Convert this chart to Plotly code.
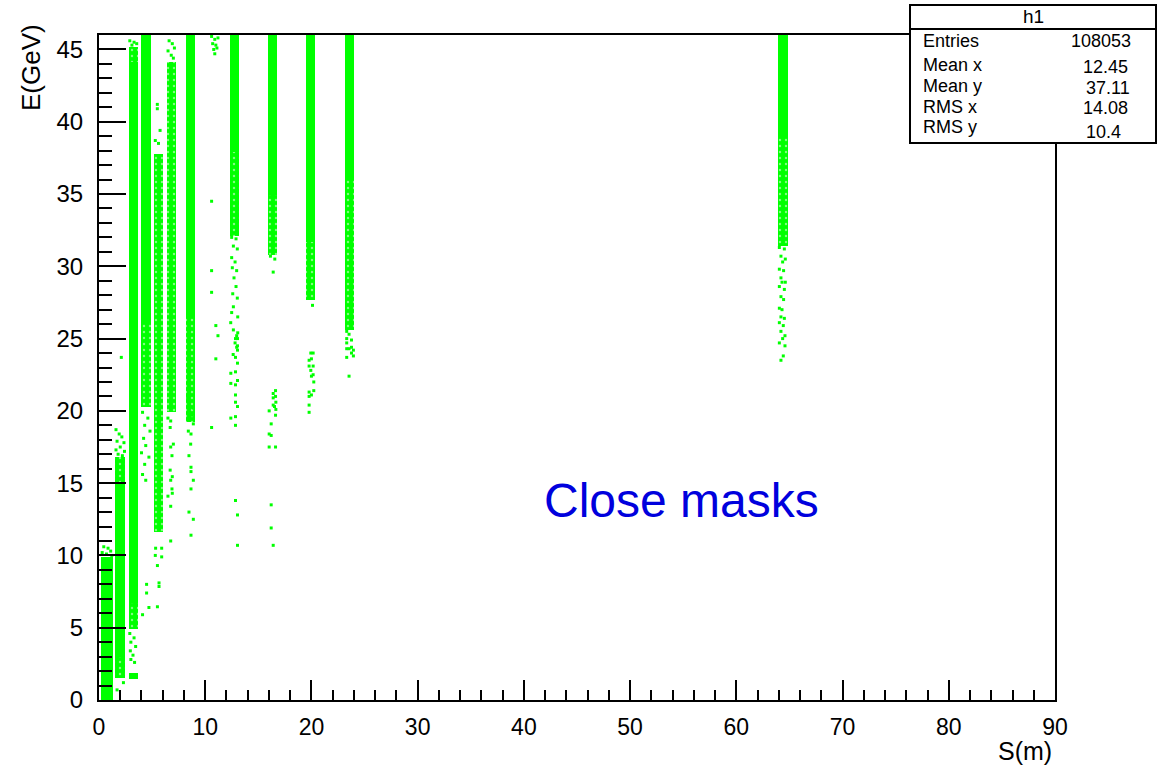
import plotly.graph_objects as go

# ---- data -------------------------------------------------------------
# Dense bands of hits: S range [m] and E range [GeV] of each band
band_s_lo = [0.16, 1.53, 2.82, 2.82, 3.95, 8.20, 12.30, 15.90, 19.50, 23.20, 63.88]
band_s_hi = [1.30, 2.47, 3.67, 3.67, 4.90, 9.02, 13.15, 16.72, 20.32, 24.05, 64.82]
band_e_lo = [0.0, 3.0, 6.7, 1.45, 26.0, 26.5, 37.9, 34.9, 31.7, 36.0, 39.0]
band_e_hi = [9.9, 15.0, 44.1, 1.9, 46.0, 46.0, 46.0, 46.0, 46.0, 46.0, 46.0]

# Speckled (partly filled) bands
speck_s_lo = [1.53, 1.53, 2.82, 2.82, 3.95, 5.20, 6.40, 8.20, 12.30, 15.90, 19.50, 23.20, 63.88]
speck_s_hi = [2.47, 2.47, 3.67, 3.67, 4.90, 6.00, 7.25, 9.02, 13.15, 16.72, 20.32, 24.05, 64.82]
speck_e_lo = [1.5, 15.0, 4.9, 44.1, 20.3, 11.6, 19.9, 19.2, 32.1, 30.8, 27.7, 25.6, 31.4]
speck_e_hi = [3.0, 16.8, 6.7, 45.2, 26.0, 37.8, 44.1, 26.5, 37.9, 34.9, 31.7, 36.0, 39.0]

# Isolated hits
sparse_s = [
    0.45, 0.85, 1.10, 0.30, 0.70, 1.20,
    1.60, 1.90, 2.15, 1.70, 2.35, 2.00, 1.60, 2.40, 1.80, 2.20, 2.10, 1.70, 2.30,
    2.90, 3.30, 3.55, 3.10,
    2.90, 3.30, 3.00, 3.45, 2.95, 3.20, 3.00, 3.35,
    4.10, 4.60, 4.30, 4.80, 4.20, 4.40, 4.00, 4.70, 4.30, 4.10, 4.40, 4.48, 4.48, 4.70, 4.10,
    5.49, 5.49, 5.75, 5.30, 5.60, 5.33, 5.90, 5.30, 5.90, 5.50, 5.65, 5.65, 5.50,
    6.60, 6.90, 7.10, 6.50, 6.80, 7.00,
    6.49, 6.75, 6.70, 7.00, 6.75, 6.87, 6.70, 6.90, 6.75, 6.87, 6.90, 6.49, 6.75, 6.75,
    8.35, 8.88, 8.73, 8.88, 8.41, 8.66, 8.63, 8.47, 8.66, 8.66, 8.88, 8.66, 8.47, 8.88, 8.66,
    10.6, 10.9, 11.2, 10.7, 11.0, 10.8, 11.1, 10.9, 10.6, 10.6, 10.6, 11.0, 11.2, 11.0, 10.6,
    12.49, 12.90, 12.65, 13.02, 12.49, 12.81, 12.55, 12.96, 12.71, 12.90, 12.59, 13.02, 12.65,
    12.49, 13.06, 12.40, 12.65, 13.06, 12.81, 12.96,
    12.96, 12.85, 13.04, 13.04, 13.04, 12.63, 12.85, 13.04, 12.85, 12.41, 13.04, 12.41, 12.85,
    12.85, 12.85, 13.04, 12.85, 12.41, 12.85, 12.85, 13.04, 13.04,
    16.62, 16.40, 16.62, 16.40, 16.65, 16.40, 16.52, 16.65, 16.02, 16.62, 16.21, 16.02, 16.21,
    16.02, 16.62, 16.21, 16.21, 16.40, 16.14, 16.55, 16.40,
    19.94, 20.16, 20.00, 19.78, 19.78, 20.16, 19.94, 20.16, 20.00, 20.22, 20.22, 19.78, 20.00,
    19.78, 19.78, 19.78, 20.10,
    23.32, 23.54, 23.32, 23.77, 23.32, 23.32, 23.54, 23.77, 23.95, 23.77, 23.95, 23.32, 23.54,
    64.05, 64.52, 64.20, 64.61, 64.36, 64.05, 64.45, 64.20, 64.30, 64.61, 64.05, 64.52, 64.20,
    64.45, 64.05, 64.30, 64.20, 64.52, 64.05, 64.42, 64.20, 64.58, 64.36, 64.05, 64.58, 64.42,
    64.20,
]
sparse_e = [
    10.6, 10.5, 10.3, 10.2, 10.1, 10.0,
    18.7, 18.4, 18.2, 17.9, 17.8, 17.5, 17.3, 17.2, 17.0, 16.9, 23.7, 0.7, 1.2,
    45.6, 45.5, 45.4, 45.3,
    4.6, 4.3, 4.0, 3.7, 3.4, 3.1, 2.8, 2.6,
    19.9, 19.5, 19.0, 18.6, 18.1, 17.6, 17.1, 16.8, 16.3, 15.6, 15.2, 8.0, 7.4, 6.4, 5.9,
    41.2, 40.9, 39.4, 38.7, 38.5, 10.5, 10.5, 10.0, 9.9, 9.3, 8.1, 7.85, 6.45,
    45.6, 45.4, 45.1, 44.9, 44.6, 44.4,
    19.5, 19.3, 18.85, 17.7, 17.5, 16.9, 15.9, 15.45, 15.2, 14.6, 14.3, 14.1, 13.4, 11.0,
    20.9, 20.2, 19.7, 19.1, 18.6, 18.4, 17.7, 16.9, 16.1, 15.8, 15.2, 14.6, 13.0, 12.5, 11.4,
    45.9, 45.7, 45.8, 45.4, 45.3, 45.0, 45.1, 44.7, 34.5, 29.7, 28.2, 25.9, 25.2, 23.6, 18.85,
    32.0, 31.9, 31.4, 31.2, 30.6, 30.3, 29.9, 29.7, 29.2, 28.6, 28.1, 27.8, 27.2,
    26.8, 26.5, 26.1, 25.6, 25.4, 24.7, 24.4,
    25.2, 25.0, 25.0, 24.5, 24.2, 23.9, 23.7, 23.3, 22.7, 22.6, 22.1, 21.9, 21.8,
    21.1, 20.6, 20.3, 19.6, 19.5, 19.0, 13.8, 12.8, 10.7,
    21.4, 21.2, 21.0, 20.9, 20.6, 20.4, 20.3, 20.1, 20.0, 19.7, 19.1, 18.4, 18.3,
    17.5, 17.5, 13.5, 11.9, 10.7, 30.7, 30.5, 29.6,
    24.0, 24.0, 23.6, 23.5, 23.1, 23.1, 22.8, 22.5, 22.4, 22.0, 21.4, 21.3, 21.1,
    21.0, 20.4, 19.9, 27.3,
    25.5, 25.3, 25.0, 24.9, 24.7, 24.3, 24.3, 24.4, 24.2, 24.0, 23.8, 23.7, 22.4,
    31.3, 31.2, 30.7, 30.5, 30.3, 29.8, 29.7, 29.2, 28.9, 28.9, 28.6, 28.4, 27.9,
    27.7, 27.1, 27.0, 26.5, 26.4, 26.1, 25.9, 25.5, 25.2, 25.0, 24.7, 24.5, 23.8,
    23.5,
]

# Statistics box contents
stats_title = "h1"
stats_names = ["Entries", "Mean x", "Mean y", "RMS x", "RMS y"]
stats_values = ["108053", "12.45", "37.11", "14.08", "10.4"]

x_ticks = list(range(0, 91, 10))
y_ticks = list(range(0, 46, 5))

# ---- figure -----------------------------------------------------------
GREEN = "#00ff00"
W, H = 1168, 765
L, R, T, B = 99, 1055, 35, 700


def px_x(p):
    return (p - L) / (R - L)


def px_y(p):
    return (B - p) / (B - T)


fig = go.Figure()

fig.add_trace(go.Bar(
    x=[(a + b) / 2 for a, b in zip(band_s_lo, band_s_hi)],
    width=[b - a for a, b in zip(band_s_lo, band_s_hi)],
    base=band_e_lo,
    y=[h - l for l, h in zip(band_e_lo, band_e_hi)],
    marker=dict(color=GREEN, line=dict(width=0)),
    hoverinfo="skip",
))

fig.add_trace(go.Bar(
    x=[(a + b) / 2 for a, b in zip(speck_s_lo, speck_s_hi)],
    width=[b - a for a, b in zip(speck_s_lo, speck_s_hi)],
    base=speck_e_lo,
    y=[h - l for l, h in zip(speck_e_lo, speck_e_hi)],
    marker=dict(color=GREEN, line=dict(width=0),
                pattern=dict(shape=".", fgcolor="white", bgcolor=GREEN,
                             size=6, solidity=0.12)),
    hoverinfo="skip",
))

fig.add_trace(go.Scatter(
    x=sparse_s, y=sparse_e, mode="markers",
    marker=dict(symbol="square", size=3, color=GREEN, line=dict(width=0)),
    hoverinfo="skip",
))

FONT = "Liberation Sans, Arial, Helvetica, sans-serif"

fig.update_layout(
    width=W, height=H, autosize=False,
    margin=dict(l=L, r=W - R, t=T, b=H - B, pad=0),
    paper_bgcolor="white", plot_bgcolor="white",
    barmode="overlay", bargap=0, showlegend=False,
    font=dict(family=FONT, size=22, color="black"),
    xaxis=dict(
        range=[0, 90], tickvals=x_ticks, ticktext=[str(v) for v in x_ticks],
        tickfont=dict(size=23),
        showgrid=False, zeroline=False, showline=True, linecolor="black",
        linewidth=2, mirror=True, ticks="inside", ticklen=20, tickwidth=2,
        tickcolor="black", ticklabelstandoff=5,
        minor=dict(ticks="inside", ticklen=10, dtick=2, tickwidth=1.5,
                   tickcolor="black", showgrid=False),
    ),
    yaxis=dict(
        range=[0, 46], tickvals=y_ticks, ticktext=[str(v) for v in y_ticks],
        tickfont=dict(size=24),
        showgrid=False, zeroline=False, showline=True, linecolor="black",
        linewidth=2, mirror=True, ticks="inside", ticklen=27, tickwidth=2,
        tickcolor="black", ticklabelstandoff=9,
        minor=dict(ticks="inside", ticklen=13, dtick=1, tickwidth=1.5,
                   tickcolor="black", showgrid=False),
    ),
)

# Axis titles, right/top aligned
fig.add_annotation(text="S(m)", xref="paper", yref="paper",
                   x=px_x(1053), y=px_y(736), xanchor="right", yanchor="top",
                   showarrow=False, font=dict(size=25), borderpad=0)
fig.add_annotation(text="E(GeV)", xref="paper", yref="paper",
                   x=px_x(31), y=px_y(68), xanchor="center", yanchor="middle",
                   textangle=-90, showarrow=False, font=dict(size=26))

# Label inside the frame
fig.add_annotation(text="Close masks", xref="paper", yref="paper",
                   x=px_x(681), y=px_y(500), xanchor="center", yanchor="middle",
                   showarrow=False, font=dict(size=48, color="#0000dd"))

# Statistics box
bx0, bx1, by0, by1, bhead = 910, 1156, 5, 143, 29
fig.add_shape(type="rect", xref="paper", yref="paper",
              x0=px_x(bx0), x1=px_x(bx1), y0=px_y(by1), y1=px_y(by0),
              line=dict(color="black", width=2), fillcolor="white", layer="above")
fig.add_shape(type="line", xref="paper", yref="paper",
              x0=px_x(bx0), x1=px_x(bx1), y0=px_y(bhead), y1=px_y(bhead),
              line=dict(color="black", width=2), layer="above")
fig.add_annotation(text=stats_title, xref="paper", yref="paper",
                   x=px_x((bx0 + bx1) / 2), y=px_y(17), xanchor="center",
                   yanchor="middle", showarrow=False, font=dict(size=19),
                   borderpad=0)
name_y = [41, 65, 86, 107, 127]
value_y = [41, 67, 88, 108, 132]
value_x = [1132, 1129, 1131, 1129, 1122]
for name, ny, val, vy, vx in zip(stats_names, name_y, stats_values, value_y, value_x):
    fig.add_annotation(text=name, xref="paper", yref="paper",
                       x=px_x(922), y=px_y(ny), xanchor="left", yanchor="middle",
                       showarrow=False, font=dict(size=18), borderpad=0)
    fig.add_annotation(text=val, xref="paper", yref="paper",
                       x=px_x(vx), y=px_y(vy), xanchor="right", yanchor="middle",
                       showarrow=False, font=dict(size=18), borderpad=0)

fig.write_html("out.html")
